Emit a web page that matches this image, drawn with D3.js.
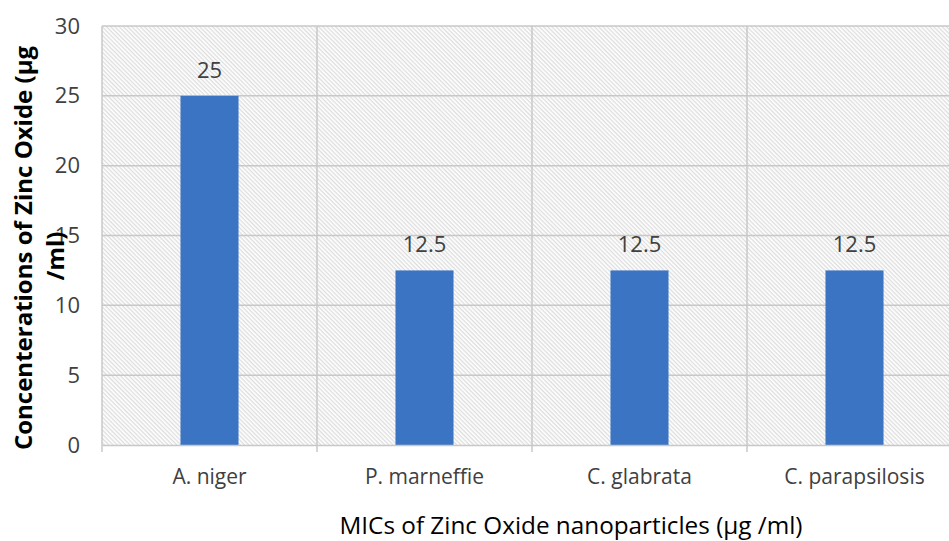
<!DOCTYPE html>
<html>
<head>
<meta charset="utf-8">
<script src="https://cdn.jsdelivr.net/npm/d3@7"></script>
<style>
  html, body { margin: 0; padding: 0; background: #fff; }
  svg { display: block; font-family: "Open Sans", sans-serif; }
</style>
</head>
<body>
<svg id="chart" width="949" height="541"></svg>
<script>
// MIC values of ZnO nanoparticles per fungal species
const categories = ["A. niger", "P. marneffie", "C. glabrata", "C. parapsilosis"];
const values = [25, 12.5, 12.5, 12.5];
const yTicks = [0, 5, 10, 15, 20, 25, 30];
const yTitleLines = ["Concenterations of Zinc Oxide (µg", "/ml)"];
const xTitle = "MICs of Zinc Oxide nanoparticles (µg /ml)";

const svg = d3.select("#chart");
const W = 949, H = 541;
const plot = { left: 102, right: 962, top: 26, bottom: 445 };

const x = d3.scaleBand().domain(categories).range([plot.left, plot.right]).paddingInner(0).paddingOuter(0);
const y = d3.scaleLinear().domain([0, 30]).range([plot.bottom, plot.top]);

// Diagonal hatch fill for the plot area
const defs = svg.append("defs");
const pat = defs.append("pattern")
  .attr("id", "hatch")
  .attr("patternUnits", "userSpaceOnUse")
  .attr("width", 3).attr("height", 3)
  .attr("patternTransform", "rotate(45)");
pat.append("rect").attr("width", 3).attr("height", 3).attr("fill", "#ffffff");
pat.append("rect").attr("width", 3).attr("height", 1.3).attr("fill", "#dddddd");

defs.append("clipPath").attr("id", "clip")
  .append("rect").attr("x", 0).attr("y", 0).attr("width", W).attr("height", H);

const g = svg.append("g").attr("clip-path", "url(#clip)");

g.append("rect")
  .attr("x", plot.left).attr("y", plot.top)
  .attr("width", plot.right - plot.left).attr("height", plot.bottom - plot.top)
  .attr("fill", "url(#hatch)");

// Horizontal gridlines
g.append("g").selectAll("line").data(yTicks.filter(d => d > 0)).join("line")
  .attr("x1", plot.left).attr("x2", plot.right)
  .attr("y1", d => y(d)).attr("y2", d => y(d))
  .attr("stroke", "#c8c8c8").attr("stroke-width", 1.5);

// Vertical gridlines at category boundaries
const bounds = categories.map(c => x(c)).concat([plot.right]);
g.append("g").selectAll("line").data(bounds).join("line")
  .attr("x1", d => d).attr("x2", d => d)
  .attr("y1", plot.top).attr("y2", plot.bottom)
  .attr("stroke", "#c8c8c8").attr("stroke-width", 1.5);

// Bars
const barW = x.bandwidth() * 0.27;
g.append("g").selectAll("rect").data(values).join("rect")
  .attr("x", (d, i) => x(categories[i]) + x.bandwidth() / 2 - barW / 2)
  .attr("y", d => y(d))
  .attr("width", barW)
  .attr("height", d => y(0) - y(d))
  .attr("fill", "#3b74c2");

// Data labels
g.append("g").selectAll("text").data(values).join("text")
  .attr("x", (d, i) => x(categories[i]) + x.bandwidth() / 2)
  .attr("y", d => y(d) - 18)
  .attr("text-anchor", "middle")
  .attr("font-size", 22)
  .attr("fill", "#404040")
  .text(d => d);

// X axis line and ticks
const xAxis = d3.axisBottom(x).tickSize(0).tickPadding(24);
const xa = g.append("g").attr("transform", `translate(0,${plot.bottom})`).call(xAxis)
  .attr("font-family", null).attr("font-size", null);
xa.select(".domain").attr("stroke", "#c8c8c8").attr("stroke-width", 1.5);
xa.selectAll("text").attr("font-size", 21).attr("fill", "#404040");
g.append("g").selectAll("line").data(bounds).join("line")
  .attr("x1", d => d).attr("x2", d => d)
  .attr("y1", plot.bottom).attr("y2", plot.bottom + 7)
  .attr("stroke", "#c8c8c8").attr("stroke-width", 1.5);

// Y axis labels
const yAxis = d3.axisLeft(y).tickValues(yTicks).tickSize(0).tickPadding(22);
const ya = svg.append("g").attr("transform", `translate(${plot.left},0)`).call(yAxis)
  .attr("font-family", null).attr("font-size", null);
ya.select(".domain").remove();
ya.selectAll("text").attr("font-size", 22).attr("fill", "#404040");

// Y axis title (two lines)
svg.append("text")
  .attr("transform", "translate(32,248) rotate(-90)")
  .attr("text-anchor", "middle")
  .attr("font-size", 24).attr("font-weight", "bold").attr("fill", "#000")
  .text(yTitleLines[0]);
svg.append("text")
  .attr("transform", "translate(64,256) rotate(-90)")
  .attr("text-anchor", "middle")
  .attr("font-size", 24).attr("font-weight", "bold").attr("fill", "#000")
  .text(yTitleLines[1]);

// X axis title
svg.append("text")
  .attr("x", 571).attr("y", 534)
  .attr("text-anchor", "middle")
  .attr("font-size", 24.3).attr("fill", "#000")
  .text(xTitle);
</script>
</body>
</html>
